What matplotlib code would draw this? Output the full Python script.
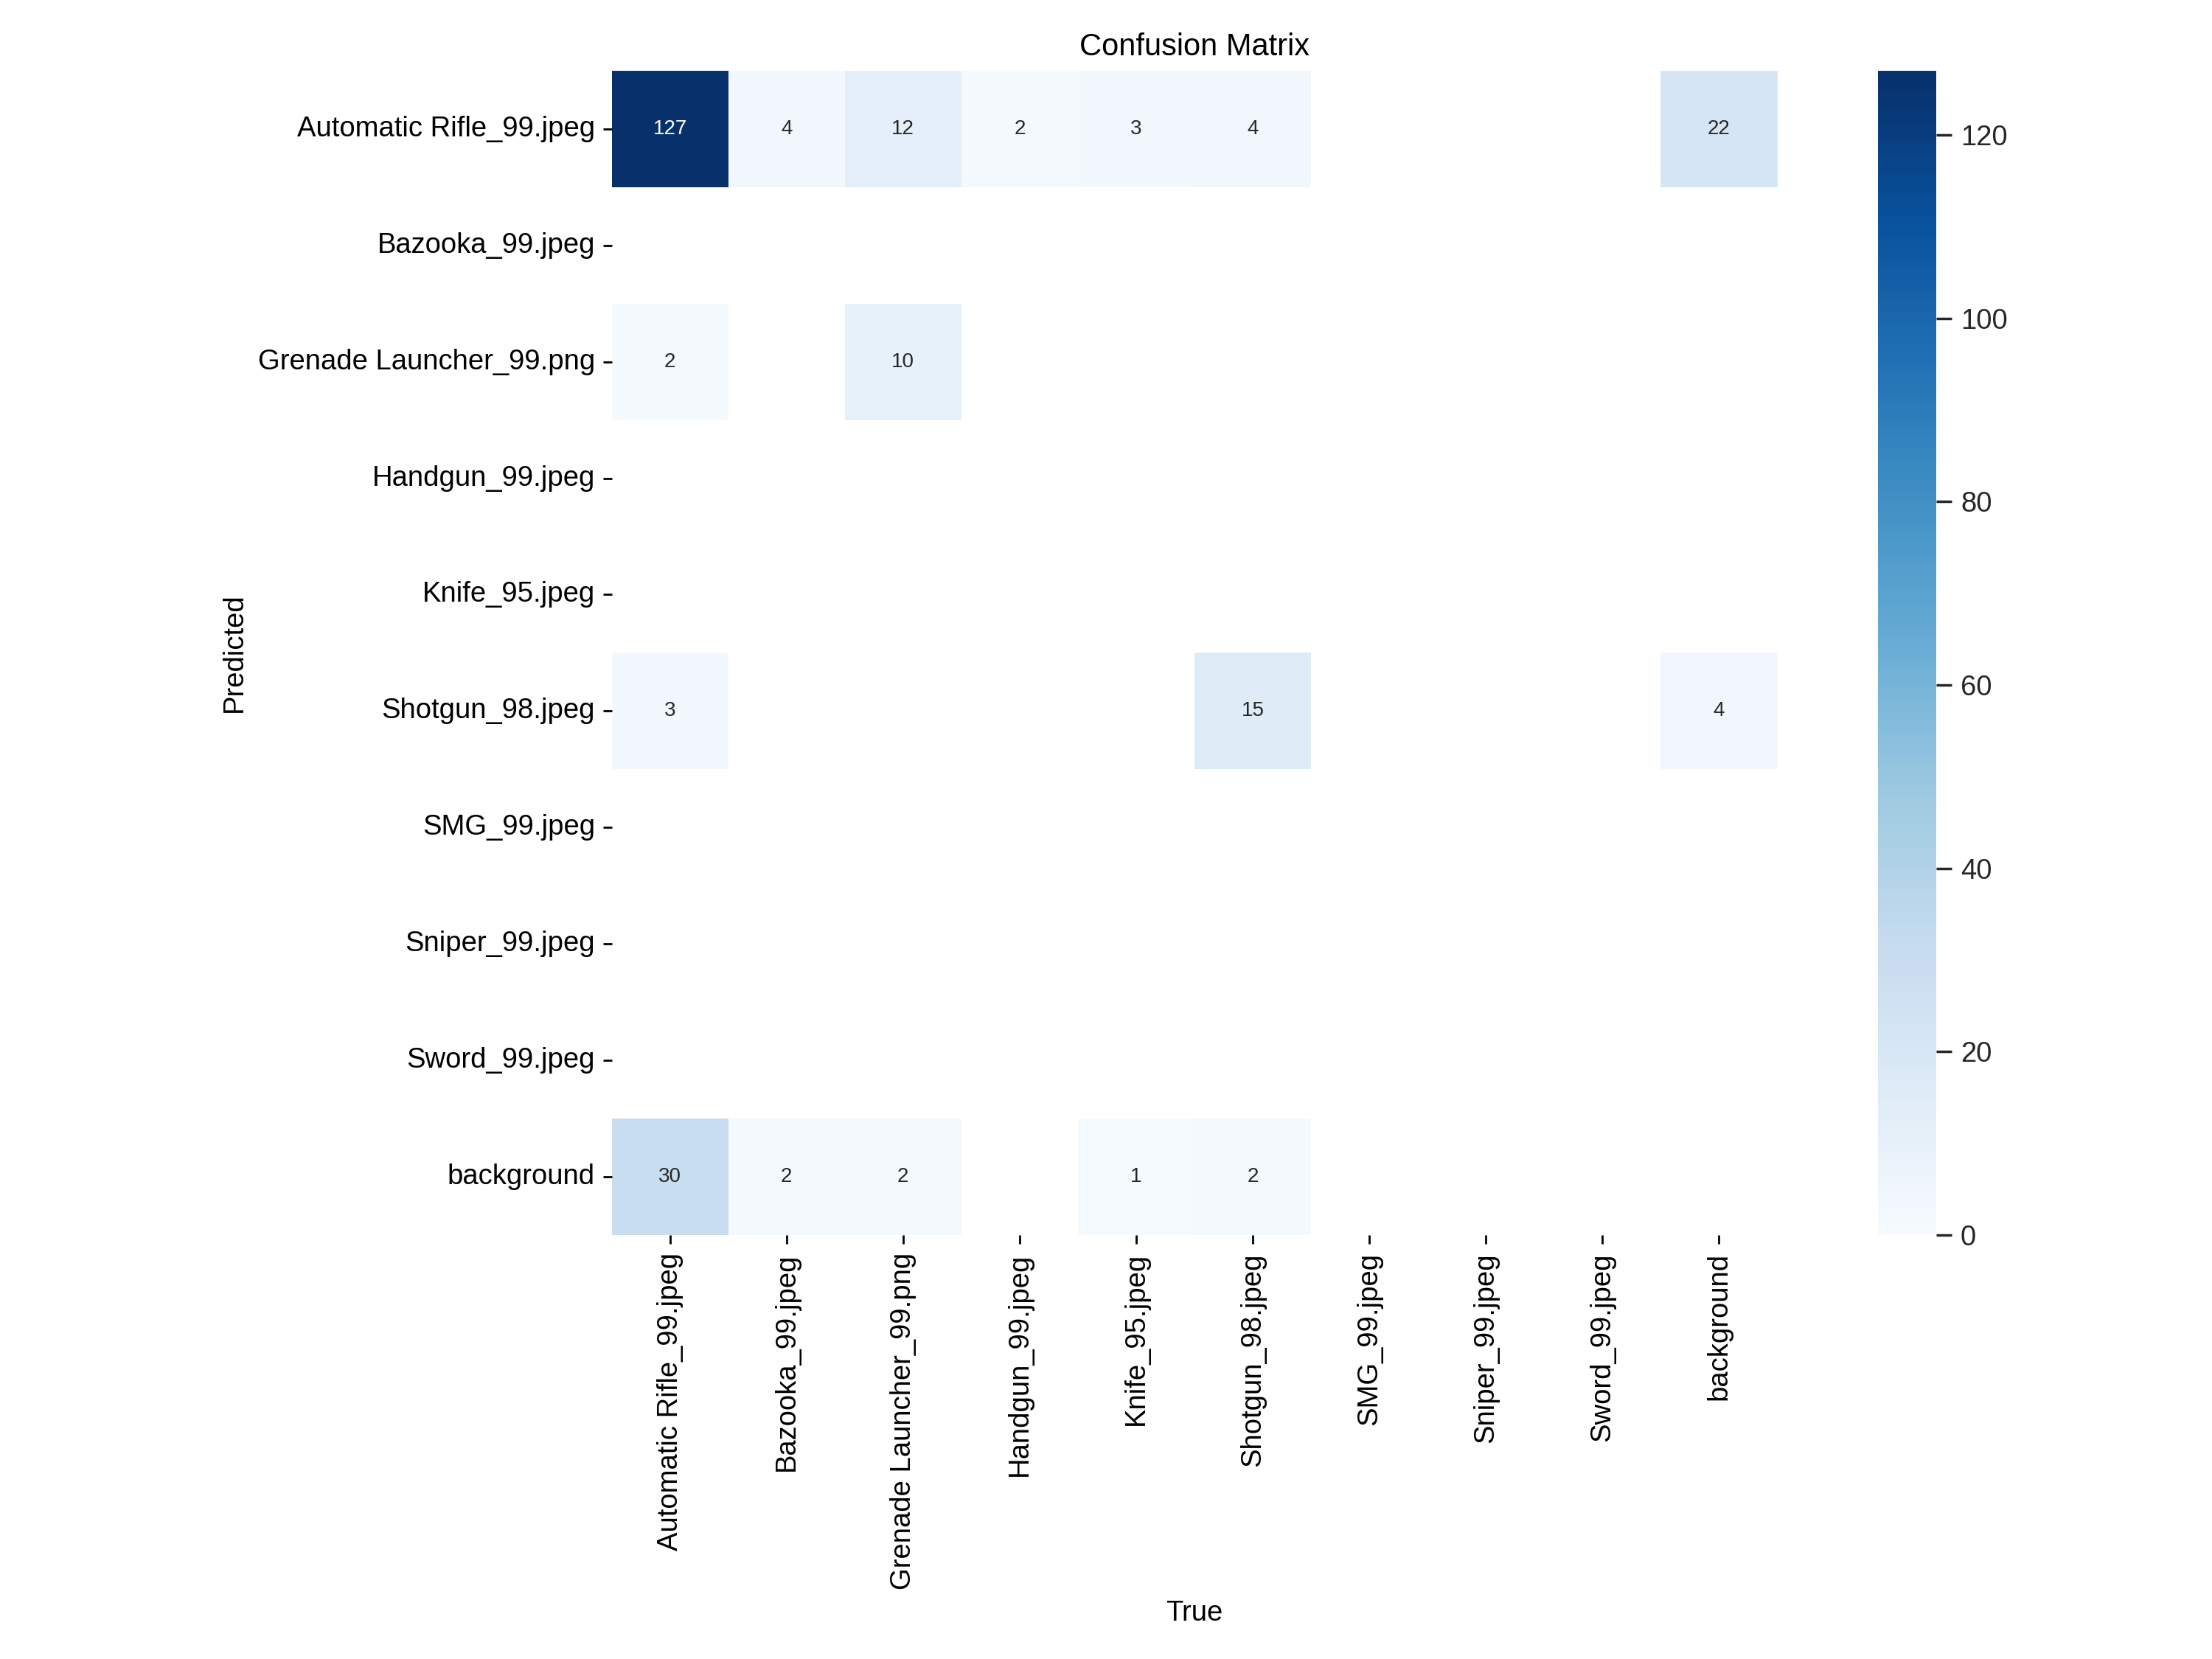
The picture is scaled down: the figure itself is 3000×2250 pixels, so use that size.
import numpy as np
import matplotlib
matplotlib.use("Agg")
import matplotlib.pyplot as plt
import seaborn as sns

labels = ["Automatic Rifle_99.jpeg", "Bazooka_99.jpeg", "Grenade Launcher_99.png",
          "Handgun_99.jpeg", "Knife_95.jpeg", "Shotgun_98.jpeg", "SMG_99.jpeg",
          "Sniper_99.jpeg", "Sword_99.jpeg", "background"]
row_rifle = [127, 4, 12, 2, 3, 4, 0, 0, 0, 22]
row_bazooka = [0] * 10
row_grenade = [2, 0, 10, 0, 0, 0, 0, 0, 0, 0]
row_handgun = [0] * 10
row_knife = [0] * 10
row_shotgun = [3, 0, 0, 0, 0, 15, 0, 0, 0, 4]
row_smg = [0] * 10
row_sniper = [0] * 10
row_sword = [0] * 10
row_background = [30, 2, 2, 0, 1, 2, 0, 0, 0, 0]

matrix = np.array([row_rifle, row_bazooka, row_grenade, row_handgun, row_knife,
                   row_shotgun, row_smg, row_sniper, row_sword, row_background], dtype=float)
matrix[matrix == 0] = np.nan

plt.rcParams["font.family"] = ["Liberation Sans", "DejaVu Sans"]
plt.rcParams["axes.linewidth"] = 0

fig = plt.figure(figsize=(12, 9), dpi=250)
ax = fig.add_axes([0.2765, 0.2556, 0.5270, 0.7018])
cax = fig.add_axes([0.8490, 0.2556, 0.0263, 0.7018])
sns.heatmap(matrix, ax=ax, cbar_ax=cax, annot=True, annot_kws={"size": 8}, cmap="Blues",
            fmt=".0f", vmin=0.0, xticklabels=labels, yticklabels=labels, square=False)
ax.set_facecolor((1, 1, 1, 0))
ax.tick_params(axis="both", labelsize=11, length=3.5, width=0.8, pad=3.5)
ax.tick_params(axis="y", pad=3.0)
plt.setp(ax.get_xticklabels(), rotation=90)
plt.setp(ax.get_yticklabels(), rotation=0)
ax.set_xlabel("True", fontsize=11)
ax.set_ylabel("Predicted", fontsize=11)
ax.set_title("Confusion Matrix", fontsize=12, pad=6)
cax.tick_params(labelsize=11, length=6, width=1, pad=3.5, color="0.15", labelcolor="0.15")
fig.savefig("out.png", dpi=250)
